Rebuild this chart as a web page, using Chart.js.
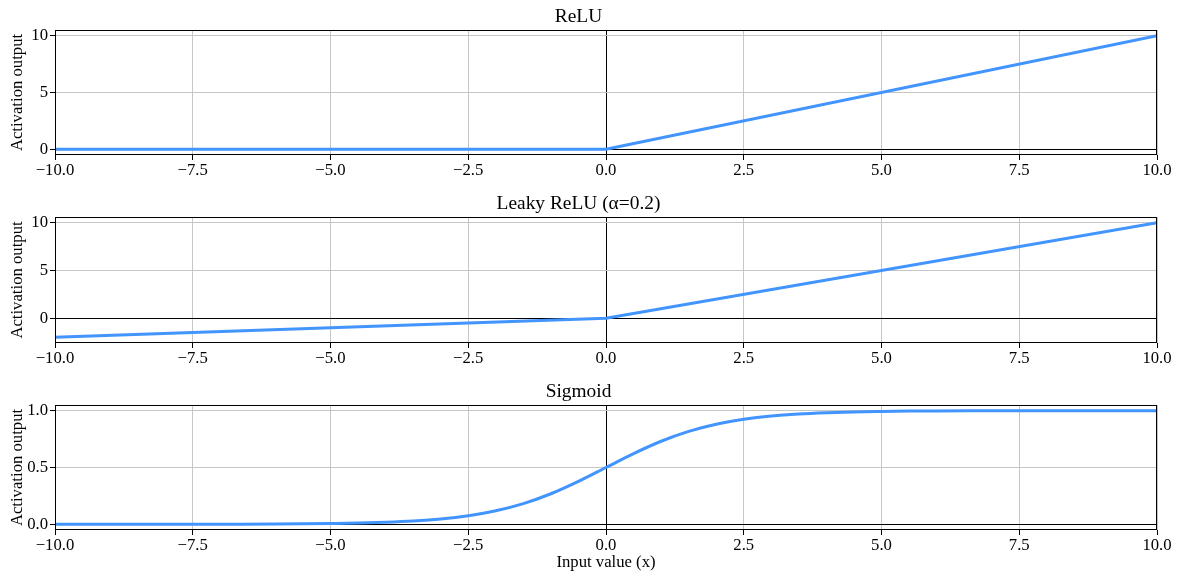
<!DOCTYPE html>
<html>
<head>
<meta charset="utf-8">
<title>Activation functions</title>
<script src="https://cdn.jsdelivr.net/npm/chart.js@4"></script>
<style>
  body { margin: 0; background: #fff; }
  .panel { position: absolute; left: 0; width: 1179px; }
</style>
</head>
<body>
<div class="panel" style="top:0px;height:187px"><canvas id="relu"></canvas></div>
<div class="panel" style="top:187px;height:188px"><canvas id="leaky"></canvas></div>
<div class="panel" style="top:375px;height:202px"><canvas id="sigmoid"></canvas></div>
<script>
const xTicks = [-10, -7.5, -5, -2.5, 0, 2.5, 5, 7.5, 10];

const reluX = [-10, 0, 10];
const reluY = [0, 0, 10];

const leakyX = [-10, 0, 10];
const leakyY = [-2, 0, 10];

const sigmoidX = [-10, -8, -7, -6, -5.5, -5, -4.5, -4, -3.5, -3, -2.5, -2, -1.5, -1, -0.5, 0,
                  0.5, 1, 1.5, 2, 2.5, 3, 3.5, 4, 4.5, 5, 5.5, 6, 7, 8, 10];
const sigmoidY = [0.000, 0.000, 0.001, 0.002, 0.004, 0.007, 0.011, 0.018, 0.029, 0.047, 0.076, 0.119, 0.182, 0.269, 0.378, 0.500,
                  0.622, 0.731, 0.818, 0.881, 0.924, 0.953, 0.971, 0.982, 0.989, 0.993, 0.996, 0.998, 0.999, 1.000, 1.000];

const reluTicks = [0, 5, 10];
const leakyTicks = [0, 5, 10];
const sigmoidTicks = [0, 0.5, 1];

const lineColor = 'rgb(66, 148, 255)';
const gridColor = '#c6c6c6';
const serif = "'Liberation Serif', 'Times New Roman', serif";

function fmtX(v) {
    return (v < 0 ? '\u2212' : '') + Math.abs(v).toFixed(1);
}

// black box round the plot area, like matplotlib spines
const frame = {
    id: 'frame',
    afterDraw(chart) {
        const a = chart.chartArea;
        const ctx = chart.ctx;
        ctx.save();
        ctx.strokeStyle = '#000';
        ctx.lineWidth = 1;
        const l = Math.round(a.left) + 0.5, t = Math.round(a.top) + 0.5;
        const r = Math.round(a.right) - 0.5, b = Math.round(a.bottom) - 0.5;
        ctx.strokeRect(l, t, r - l, b - t);
        ctx.restore();
    }
};

function zeroColor(ctx) {
    return ctx.tick && ctx.tick.value === 0 ? '#000' : gridColor;
}

function makePanel(id, title, xs, ys, yTicks, yMin, yMax, yFmt, xTitle, curved) {
    const el = document.getElementById(id);
    new Chart(el, {
        type: 'line',
        data: {
            datasets: [{
                data: xs.map((x, i) => ({x: x, y: ys[i]})),
                borderColor: lineColor,
                borderWidth: 3,
                pointRadius: 0,
                fill: false,
                cubicInterpolationMode: curved ? 'monotone' : 'default',
                tension: 0
            }]
        },
        plugins: [frame],
        options: {
            responsive: true,
            maintainAspectRatio: false,
            animation: false,
            layout: { padding: { left: 0, right: 22, top: 0, bottom: 0 } },
            plugins: {
                legend: { display: false },
                tooltip: { enabled: false },
                title: {
                    display: true,
                    text: title,
                    color: '#000',
                    font: { family: serif, size: 19.4, weight: 'normal' },
                    padding: { top: 5.4, bottom: 1.3 }
                }
            },
            scales: {
                x: {
                    type: 'linear',
                    min: -10,
                    max: 10,
                    afterBuildTicks: s => { s.ticks = xTicks.map(v => ({value: v})); },
                    afterFit: s => {
                        s.height = xTitle ? 47 : 32;
                        s.paddingLeft = 0;
                        s.paddingRight = 0;
                    },
                    ticks: {
                        callback: v => fmtX(v),
                        color: '#000',
                        font: { family: serif, size: 16.7 },
                        padding: 1,
                        maxRotation: 0,
                        autoSkip: false
                    },
                    grid: { color: zeroColor, lineWidth: 1, tickLength: 5, tickColor: '#000' },
                    border: { display: false },
                    title: {
                        display: !!xTitle,
                        text: xTitle || '',
                        color: '#000',
                        font: { family: serif, size: 16.7 },
                        padding: { top: 0, bottom: 4 }
                    }
                },
                y: {
                    min: yMin,
                    max: yMax,
                    afterBuildTicks: s => { s.ticks = yTicks.map(v => ({value: v})); },
                    afterFit: s => { s.width = 55; },
                    ticks: {
                        callback: yFmt,
                        color: '#000',
                        font: { family: serif, size: 16.7 },
                        padding: 2
                    },
                    grid: { color: zeroColor, lineWidth: 1, tickLength: 5, tickColor: '#000' },
                    border: { display: false },
                    title: {
                        display: true,
                        text: 'Activation output',
                        color: '#000',
                        font: { family: serif, size: 16.7 },
                        padding: { top: 8, bottom: 0 }
                    }
                }
            }
        }
    });
}

makePanel('relu', 'ReLU', reluX, reluY, reluTicks, -0.5, 10.5, v => String(v), null, false);
makePanel('leaky', 'Leaky ReLU (\u03b1=0.2)', leakyX, leakyY, leakyTicks, -2.6, 10.6, v => String(v), null, false);
makePanel('sigmoid', 'Sigmoid', sigmoidX, sigmoidY, sigmoidTicks, -0.05, 1.05, v => v.toFixed(1), 'Input value (x)', true);
</script>
</body>
</html>
